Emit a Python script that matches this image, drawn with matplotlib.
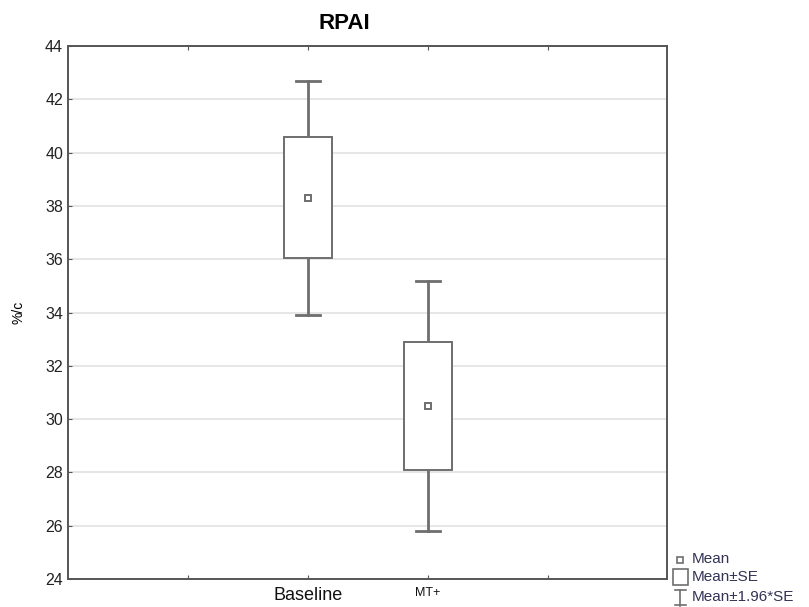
import matplotlib.pyplot as plt
import matplotlib.patches as mpatches
from matplotlib.lines import Line2D

plt.rcParams['font.family'] = ['Liberation Sans', 'DejaVu Sans']

groups = ['Baseline', 'MT+']
positions = [2, 3]
means = [38.3, 30.5]
se_lo = [36.05, 28.1]
se_hi = [40.6, 32.9]
ci_lo = [33.9, 25.8]
ci_hi = [42.7, 35.2]

GRAY = '#6e6e6e'

fig = plt.figure(figsize=(8.09, 6.07), dpi=100)
ax = fig.add_axes([0.084, 0.046, 0.741, 0.878])

box_w = 0.4
cap_w = 0.2
for x, m, lo, hi, clo, chi in zip(positions, means, se_lo, se_hi, ci_lo, ci_hi):
    # whiskers (mean +/- 1.96*SE)
    ax.plot([x, x], [hi, chi], color=GRAY, lw=2, zorder=3)
    ax.plot([x, x], [clo, lo], color=GRAY, lw=2, zorder=3)
    ax.plot([x - cap_w / 2, x + cap_w / 2], [chi, chi], color=GRAY, lw=2, zorder=3)
    ax.plot([x - cap_w / 2, x + cap_w / 2], [clo, clo], color=GRAY, lw=2, zorder=3)
    # box (mean +/- SE)
    ax.add_patch(mpatches.Rectangle((x - box_w / 2, lo), box_w, hi - lo,
                                    facecolor='white', edgecolor=GRAY, lw=1.4, zorder=4))
    # mean
    ax.plot(x, m, 's', ms=5, mfc='white', mec=GRAY, mew=1.4, zorder=5)

ax.set_xlim(0, 5)
ax.set_ylim(24, 44)
ax.set_yticks(range(24, 45, 2))
ax.set_xticks([1, 2, 3, 4])
ax.set_xticklabels(['', groups[0], groups[1], ''])
for lbl in ax.get_xticklabels():
    lbl.set_fontsize(13)
ax.get_xticklabels()[2].set_fontsize(9)
ax.get_xticklabels()[2].set_color('#4a3a5a')
ax.tick_params(axis='y', labelsize=11.5, direction='in', length=3, color='#555555',
               labelcolor='#222222')
ax.tick_params(axis='x', direction='in', length=3, color='#555555', pad=6,
               labelcolor='#111111')
ax.tick_params(top=True, right=False)
ax.grid(axis='y', color='#e2e2e2', lw=1.2, zorder=0)
ax.set_axisbelow(True)
for s in ax.spines.values():
    s.set_color('#555555')
    s.set_linewidth(1.4)

ax.set_ylabel('%/c', fontsize=10, labelpad=14)
fig.text(0.425, 0.962, 'RPAI', ha='center', va='center', fontsize=16, fontweight='bold')

# legend drawn outside the axes, bottom right
lx = 0.841
fig.add_artist(Line2D([lx], [0.078], marker='s', ms=4, mfc='white', mec=GRAY, mew=1.2,
                      transform=fig.transFigure))
fig.add_artist(mpatches.Rectangle((lx - 0.009, 0.036), 0.018, 0.027, facecolor='white',
                                  edgecolor=GRAY, lw=1.2, transform=fig.transFigure))
fig.add_artist(Line2D([lx, lx], [0.002, 0.028], color=GRAY, lw=1.2, transform=fig.transFigure))
fig.add_artist(Line2D([lx - 0.007, lx + 0.007], [0.028, 0.028], color=GRAY, lw=1.2, transform=fig.transFigure))
fig.add_artist(Line2D([lx - 0.007, lx + 0.007], [0.003, 0.003], color=GRAY, lw=1.2, transform=fig.transFigure))
for yy, txt in [(0.079, 'Mean'), (0.049, 'Mean±SE'), (0.016, 'Mean±1.96*SE')]:
    fig.text(lx + 0.014, yy, txt, fontsize=11, va='center', color='#333355')

fig.savefig('out.png', dpi=100)
